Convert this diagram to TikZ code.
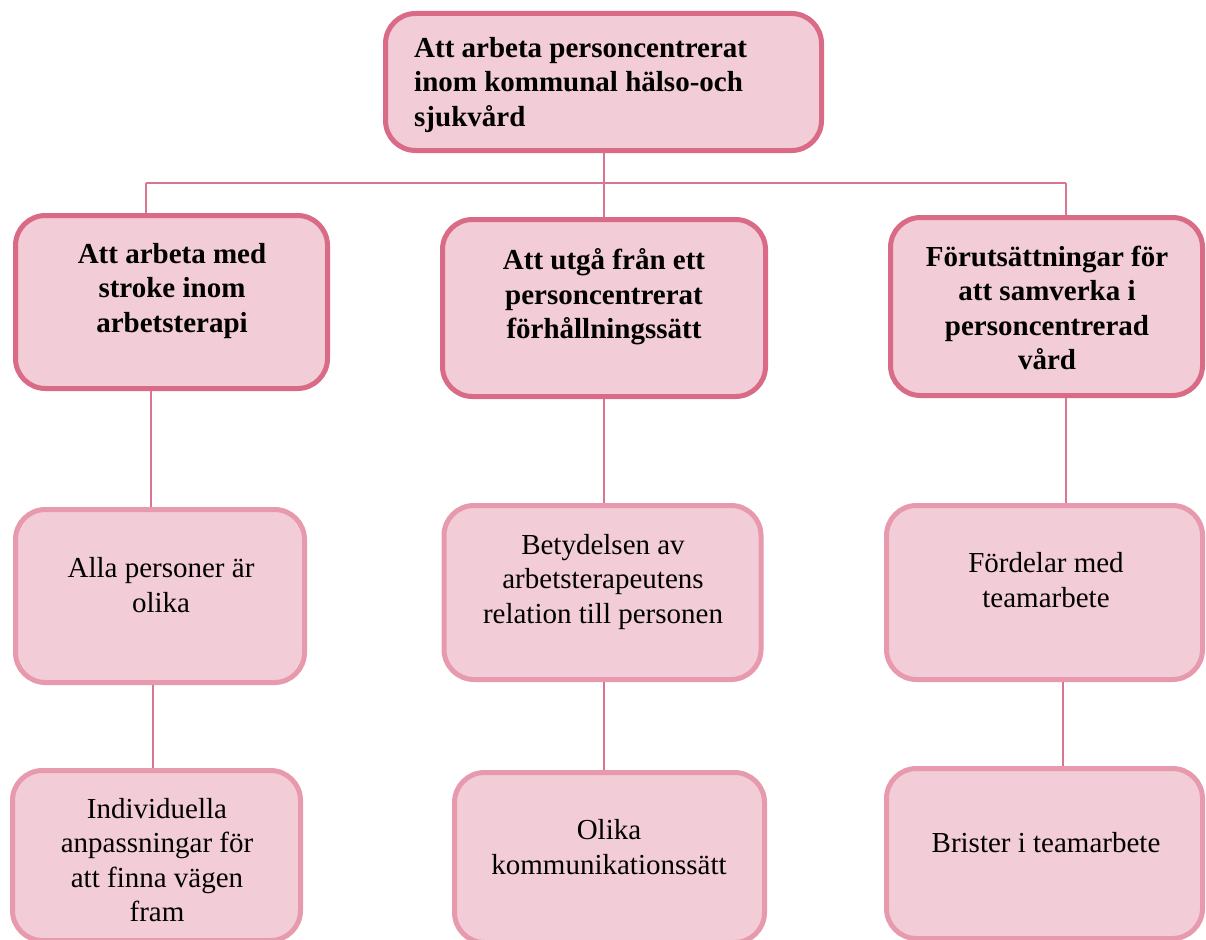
\documentclass[tikz,border=0pt]{standalone}
\usepackage{fontspec}
\setmainfont{Liberation Serif}
\definecolor{boxfill}{HTML}{F2CCD6}
\definecolor{darkrim}{HTML}{D96B86}
\definecolor{lightrim}{HTML}{E79AAD}
\definecolor{linkcol}{HTML}{DA7590}
\tikzset{
  mainbox/.style={draw=darkrim, fill=boxfill, line width=5pt, rounded corners=30pt, inner sep=0pt, rectangle},
  subbox/.style={draw=lightrim, fill=boxfill, line width=5pt, rounded corners=30pt, inner sep=0pt, rectangle},
  boldtxt/.style={font=\fontsize{29}{34.5}\selectfont\bfseries, align=center, inner sep=0pt, text=black},
  plaintxt/.style={font=\fontsize{29}{34.5}\selectfont, align=center, inner sep=0pt, text=black},
  link/.style={draw=linkcol, line width=2pt}
}
\begin{document}
\begin{tikzpicture}[x=1pt,y=-1pt]
\useasboundingbox (0,0) rectangle (1206,939);
\clip (0,0) rectangle (1206,939);
% boxes
\node[mainbox, minimum width=436pt, minimum height=137pt] (T) at (603.5,82) {};
\node[mainbox, minimum width=312pt, minimum height=173pt] (L1a) at (171.5,302) {};
\node[mainbox, minimum width=323pt, minimum height=177pt] (L1b) at (604,308) {};
\node[mainbox, minimum width=312pt, minimum height=178pt] (L1c) at (1046.5,306.5) {};
\node[subbox, minimum width=289pt, minimum height=173pt] (L2a) at (160,596) {};
\node[subbox, minimum width=317pt, minimum height=174pt] (L2b) at (602.5,592.5) {};
\node[subbox, minimum width=316pt, minimum height=174pt] (L2c) at (1044.5,592.5) {};
\node[subbox, minimum width=288pt, minimum height=170pt] (L3a) at (156.5,855.5) {};
\node[subbox, minimum width=310pt, minimum height=170pt] (L3b) at (609.5,857.5) {};
\node[subbox, minimum width=316pt, minimum height=170pt] (L3c) at (1044.5,853.5) {};
% texts
\node[boldtxt, align=left, anchor=west] (tT) at (414,85) {Att arbeta personcentrerat\\inom kommunal hälso-och\\sjukvård};
\node[boldtxt] (tL1a) at (172,291) {Att arbeta med\\stroke inom\\arbetsterapi};
\node[boldtxt] (tL1b) at (604,297) {Att utgå från ett\\personcentrerat\\förhållningssätt};
\node[boldtxt] (tL1c) at (1047,308) {Förutsättningar för\\att samverka i\\personcentrerad\\vård};
\node[plaintxt] (tL2a) at (161,585) {Alla personer är\\olika};
\node[plaintxt] (tL2b) at (603,582) {Betydelsen av\\arbetsterapeutens\\relation till personen};
\node[plaintxt] (tL2c) at (1046,580) {Fördelar med\\teamarbete};
\node[plaintxt] (tL3a) at (157,860) {Individuella\\anpassningar för\\att finna vägen\\fram};
\node[plaintxt] (tL3b) at (609,847) {Olika\\kommunikationssätt};
\node[plaintxt] (tL3c) at (1046,843) {Brister i teamarbete};
% connectors
\coordinate (busL) at (146,183);
\coordinate (busR) at (1066,183);
\draw[link] (busL) -- (busR);
\draw[link] (T.south) -- (T.south |- L1b.north);
\draw[link] (busL) -- (busL |- L1a.north);
\draw[link] (busR) -- (busR |- L1c.north);
\draw[link] (L1a.south -| 151,0) -- (L2a.north -| 151,0);
\draw[link] (L2a.south -| 153,0) -- (L3a.north -| 153,0);
\draw[link] (L1b.south -| 604,0) -- (L2b.north -| 604,0);
\draw[link] (L2b.south -| 604,0) -- (L3b.north -| 604,0);
\draw[link] (L1c.south -| 1066,0) -- (L2c.north -| 1066,0);
\draw[link] (L2c.south -| 1063,0) -- (L3c.north -| 1063,0);
\end{tikzpicture}
\end{document}
